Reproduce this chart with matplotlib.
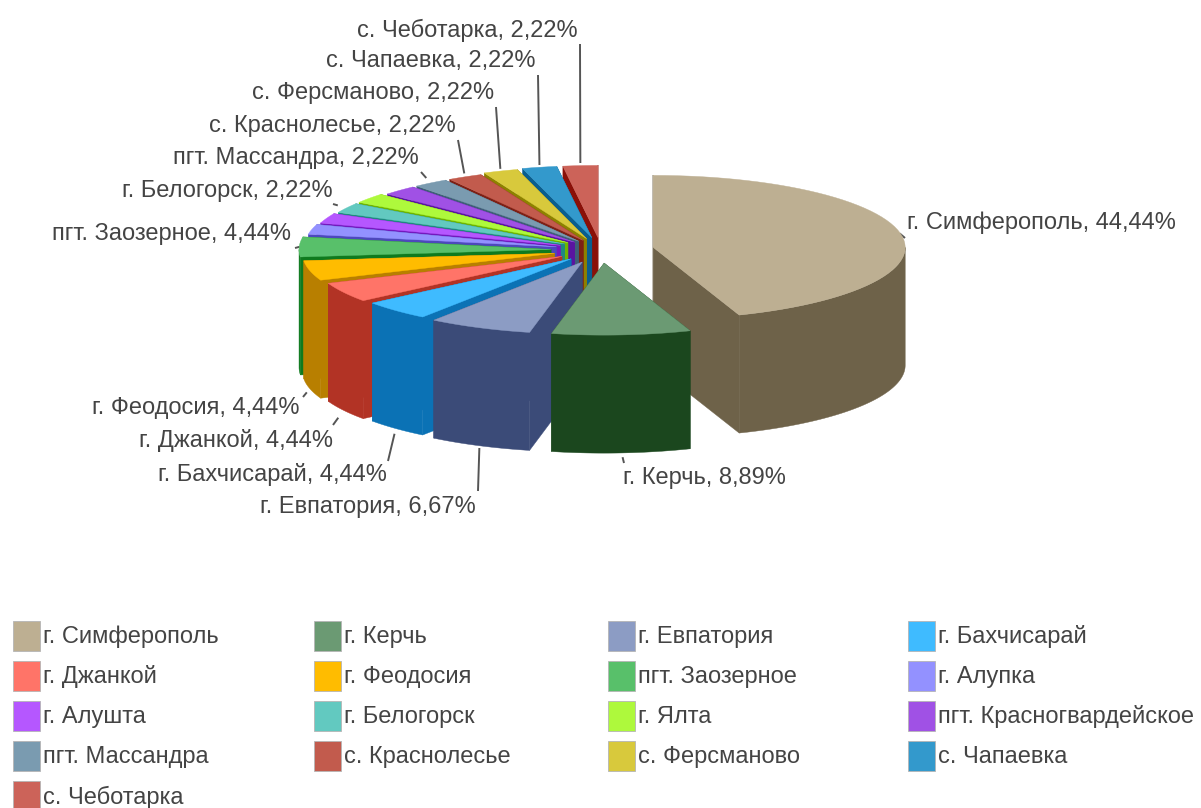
import numpy as np
import matplotlib
matplotlib.use("Agg")
import matplotlib.pyplot as plt
from matplotlib.patches import Rectangle

categories = ["г. Симферополь", "г. Керчь", "г. Евпатория", "г. Бахчисарай", "г. Джанкой", "г. Феодосия",
              "пгт. Заозерное", "г. Алупка", "г. Алушта", "г. Белогорск", "г. Ялта", "пгт. Красногвардейское",
              "пгт. Массандра", "с. Краснолесье", "с. Ферсманово", "с. Чапаевка", "с. Чеботарка"]
shares = [44.44, 8.89, 6.67, 4.44, 4.44, 4.44, 4.44, 2.22, 2.22, 2.22, 2.22, 2.22, 2.22, 2.22, 2.22, 2.22, 2.22]
top_colors = ["#BDAF92", "#6B9A73", "#8C9CC4", "#3FBBFF", "#FF7468", "#FFBC00", "#58C06A", "#9391FF", "#B557FF",
              "#62C9C0", "#AEF93C", "#A051E5", "#7A9BB0", "#C25B4D", "#D8C93C", "#3399CC", "#CC6359"]
side_colors = ["#6E6249", "#1B471E", "#3B4B78", "#0B72B5", "#B23325", "#B87F00", "#0F7A1E", "#4D48BC", "#7418BE",
               "#1F8A80", "#6FB500", "#5A14A0", "#3F5F78", "#7D2015", "#8D8100", "#0A5E8E", "#8A1008"]
explode = [53, 46, 46, 43, 45, 48, 50, 46, 44, 42, 42, 38, 38, 38, 42, 44, 44]

# label placement: slice index -> (text x, text y, align, leader outer x, y, leader length)
label_place = {
    0: (907, 223, "left", 905, 238, 7), 1: (623, 478, "left", 624, 463, 6), 2: (476, 507, "right", 478, 491, 43),
    3: (387, 474, "right", 388, 461, 28), 4: (333, 441, "right", 333, 425, 9), 5: (300, 408, "right", 303, 397, 6),
    6: (291, 234, "right", 295, 248, 5), 9: (333, 191, "right", 333, 204, 5), 12: (419, 158, "right", 421, 172, 8),
    13: (456, 126, "right", 458, 140, 34), 14: (494, 93, "right", 496, 107, 62), 15: (536, 61, "right", 538, 75, 90),
    16: (578, 30, "right", 580, 44, 119),
}

CX, CY, RX, RY, DEPTH = 601, 250, 252, 72, 118
FONT = ["Liberation Sans", "DejaVu Sans"]
TEXT = "#444444"
FS = 17

fig = plt.figure(figsize=(12.01, 8.08), dpi=100, facecolor="white")
ax = fig.add_axes([0, 0, 1, 1])
ax.set_xlim(0, 1201)
ax.set_ylim(808, 0)
ax.axis("off")

def pt(th):
    t = np.radians(th)
    return np.sin(t) * RX, -np.cos(t) * RY

vals = np.array(shares, float)
edges = np.concatenate([[0], np.cumsum(vals)]) / vals.sum() * 360
mids = (edges[:-1] + edges[1:]) / 2
order = np.argsort(-np.cos(np.radians(mids)))
z = 2.0
centers = {}
for i in order:
    a, b, m = edges[i], edges[i + 1], mids[i]
    ox = CX + np.sin(np.radians(m)) * explode[i]
    oy = CY - np.cos(np.radians(m)) * explode[i] * RY / RX
    centers[i] = (ox, oy)
    th = np.linspace(a, b, 60)
    xs, ys = pt(th)
    xs, ys = xs + ox, ys + oy
    for e in (a, b):
        ex, ey = pt(e)
        ax.fill([ox, ox + ex, ox + ex, ox], [oy, oy + ey, oy + ey + DEPTH, oy + DEPTH],
                color=side_colors[i], lw=0.3, zorder=z)
    lo, hi = max(a, 90), min(b, 270)
    if hi > lo:
        tf = np.linspace(lo, hi, 60)
        fx, fy = pt(tf)
        fx, fy = fx + ox, fy + oy
        ax.fill(np.r_[fx, fx[::-1]], np.r_[fy, fy[::-1] + DEPTH], color=side_colors[i], lw=0.3, zorder=z)
    ax.fill(np.r_[ox, xs], np.r_[oy, ys], color=top_colors[i], lw=0.3, zorder=z + 0.1)
    z += 1

for i, (lx, ly, ha, ex, ey, length) in label_place.items():
    m = mids[i]
    ox, oy = centers[i]
    rx, ry = pt(m)
    sx, sy = ox + rx, oy + ry
    if -np.cos(np.radians(m)) > 0 and i != 0:
        sy += DEPTH
    d = np.array([sx - ex, sy - ey])
    d = d / np.hypot(*d) * length
    ax.plot([ex, ex + d[0]], [ey, ey + d[1]], color="#555555", lw=1.4, zorder=1, solid_capstyle="butt")
    label = categories[i] + ", " + f"{shares[i]:.2f}".replace(".", ",") + "%"
    ax.text(lx, ly, label, ha=ha, va="center", fontsize=FS, color=TEXT, family=FONT, zorder=100)

col_x = [13, 314, 608, 908]
row_y = [636, 676, 716, 756, 796]
for i, name in enumerate(categories):
    x, y = col_x[i % 4], row_y[i // 4]
    ax.add_patch(Rectangle((x, y - 15), 27, 30, facecolor=top_colors[i], edgecolor="#b5b5b5", lw=0.6, clip_on=False))
    ax.text(x + 30, y + 1, name, ha="left", va="center", fontsize=FS, color=TEXT, family=FONT)

fig.savefig("out.png", dpi=100, facecolor="white")
